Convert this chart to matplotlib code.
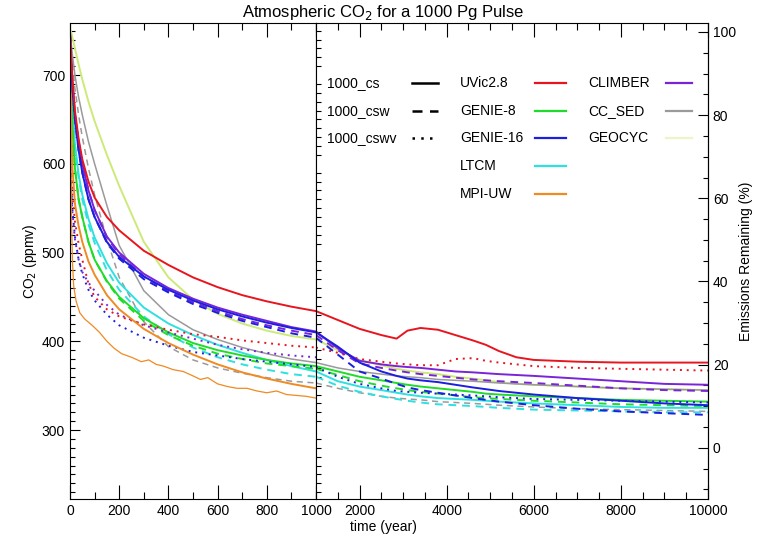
import numpy as np
import matplotlib.pyplot as plt
from matplotlib.lines import Line2D
from matplotlib.ticker import MultipleLocator, FixedLocator

plt.rcParams['font.family'] = ['Liberation Sans', 'DejaVu Sans']
plt.rcParams['font.size'] = 10

# time grids (years)
t_early = [0, 5, 10, 20, 35, 50, 75, 100, 150, 200, 300, 400, 500, 600, 700, 800, 900, 1000]
t_late = [1000, 1500, 2000, 2500, 2850, 3100, 3400, 3800, 4200, 4600, 4900, 5200, 5600, 6000,
          7000, 8000, 9000, 10000]

# CO2 (ppmv)
uvic_cs_e = [750, 720, 695, 660, 628, 605, 580, 562, 540, 525, 502, 486, 472, 461, 452, 445, 439, 434]
uvic_cs_l = [434, 424, 414, 407, 403, 412, 415, 413, 407, 401, 396, 389, 382, 379, 377, 376, 376, 376]
uvic_cswv_e = [620, 590, 565, 535, 510, 492, 465, 450, 436, 428, 419, 413, 408, 405, 401, 398, 395, 393]
uvic_cswv_l = [393, 387, 380, 377, 375, 374, 373, 373, 380, 381, 378, 376, 374, 372, 370, 369, 368, 367]

g8_cs_e = [745, 680, 640, 595, 560, 540, 512, 492, 468, 450, 426, 410, 398, 390, 384, 379, 375, 372]
g8_cs_l = [372, 366, 360, 356, 353, 351, 349, 347, 345, 343, 341, 340, 339, 338, 336, 334, 333, 332]
g8_csw_e = [745, 680, 640, 595, 560, 540, 512, 492, 467, 448, 423, 407, 395, 386, 380, 375, 372, 369]
g8_csw_l = [369, 362, 355, 350, 347, 345, 343, 341, 339, 337, 336, 335, 334, 333, 331, 329, 328, 327]

g16_cs_e = [745, 710, 685, 650, 615, 590, 560, 540, 512, 495, 473, 458, 446, 436, 428, 421, 415, 410]
g16_cs_l = [410, 394, 376, 366, 361, 358, 356, 354, 351, 348, 346, 344, 342, 340, 336, 333, 330, 328]
g16_csw_e = [745, 710, 685, 650, 615, 590, 560, 540, 511, 493, 470, 455, 442, 432, 423, 416, 409, 404]
g16_csw_l = [404, 385, 366, 358, 352, 348, 345, 342, 339, 336, 334, 332, 330, 328, 324, 321, 319, 317]
g16_cswv_e = [610, 575, 548, 518, 492, 476, 458, 446, 430, 418, 404, 395, 388, 384, 380, 377, 374, 371]
g16_cswv_l = [371, 360, 352, 347, 344, 343, 342, 341, 340, 339, 338, 337, 336, 335, 334, 333, 332, 331]

ltcm_cs_e = [745, 700, 665, 622, 588, 565, 538, 517, 488, 466, 438, 420, 407, 396, 387, 379, 372, 366]
ltcm_cs_l = [366, 355, 349, 345, 342, 340, 338, 336, 335, 334, 333, 332, 331, 330, 328, 326, 325, 325]
ltcm_csw_e = [745, 700, 665, 620, 585, 560, 532, 511, 480, 458, 428, 408, 393, 382, 374, 368, 363, 360]
ltcm_csw_l = [360, 350, 343, 338, 335, 333, 331, 329, 328, 327, 326, 325, 324, 323, 322, 321, 320, 320]

mpi_cs_e = [745, 645, 595, 555, 530, 512, 490, 475, 452, 436, 414, 398, 385, 374, 365, 358, 352, 347]
mpi_csw_t = [0, 3, 6, 10, 15, 25, 40, 60, 90, 120, 150, 180, 210, 250, 290, 320, 350, 380, 420,
             460, 500, 530, 560, 600, 640, 680, 720, 760, 800, 840, 880, 920, 960, 1000]
mpi_csw = [740, 620, 540, 490, 462, 445, 432, 425, 418, 410, 400, 392, 386, 382, 377, 379, 374, 372,
           368, 366, 361, 357, 359, 352, 349, 347, 347, 344, 342, 344, 340, 339, 338, 336]

climber_cs_e = [748, 715, 690, 655, 625, 600, 570, 548, 518, 500, 476, 460, 448, 438, 430, 423, 416, 411]
climber_cs_l = [411, 392, 378, 374, 372, 371, 370, 368, 366, 365, 364, 363, 362, 361, 358, 355, 352, 351]
climber_csw_e = [748, 715, 690, 655, 625, 600, 570, 548, 517, 498, 473, 456, 444, 434, 425, 418, 412, 407]
climber_csw_l = [407, 390, 375, 370, 367, 365, 363, 361, 359, 357, 356, 355, 354, 353, 350, 347, 345, 344]
climber_cswv_e = [600, 570, 545, 515, 492, 478, 466, 457, 441, 430, 418, 410, 403, 396, 391, 387, 384, 382]

ccsed_cs_e = [748, 735, 722, 700, 675, 655, 625, 600, 553, 508, 457, 430, 413, 402, 393, 386, 380, 376]
ccsed_cs_l = [376, 370, 366, 363, 361, 360, 359, 357, 356, 355, 354, 353, 352, 351, 349, 347, 346, 345]
ccsed_csw_e = [748, 730, 712, 685, 655, 630, 595, 565, 515, 472, 422, 394, 379, 370, 364, 359, 355, 353]
ccsed_csw_l = [353, 347, 342, 338, 336, 335, 334, 332, 331, 330, 329, 328, 327, 326, 324, 323, 322, 321]

geocyc_cs_e = [752, 748, 742, 730, 712, 695, 670, 648, 610, 575, 512, 472, 447, 431, 420, 412, 406, 402]
geocyc_cs_l = [402, 390, 379, 373, 369, 367, 365, 363, 360, 358, 356, 354, 352, 351, 349, 347, 346, 345]

# legend entries
scen_names = ['1000_cs', '1000_csw', '1000_cswv']
scen_styles = ['-', (0, (4, 3)), (0, (1, 2.5))]
model_names = ['UVic2.8', 'GENIE-8', 'GENIE-16', 'LTCM', 'MPI-UW', 'CLIMBER', 'CC_SED', 'GEOCYC']
model_colors = ['#e8151f', '#1fdc2a', '#1c1fe0', '#2fe0e0', '#f08a22', '#7a24d8', '#9a9a9a', '#cdea78']
col = dict(zip(model_names, model_colors))

fig = plt.figure(figsize=(7.67, 5.5), dpi=100)
axL = fig.add_axes([70 / 767, 1 - 499 / 550, 246 / 767, 476 / 550])
axR = fig.add_axes([316 / 767, 1 - 499 / 550, 392 / 767, 476 / 550], sharey=axL)

lw = 1.4
solid, dashed, dotted = scen_styles


def both(early, late, c, ls, w=lw):
    axL.plot(t_early, early, color=c, ls=ls, lw=w)
    if late is not None:
        axR.plot(t_late, late, color=c, ls=ls, lw=w)


both(geocyc_cs_e, geocyc_cs_l, col['GEOCYC'], solid)
both(ccsed_cs_e, ccsed_cs_l, col['CC_SED'], solid, 1.1)
both(ccsed_csw_e, ccsed_csw_l, col['CC_SED'], dashed, 1.1)
both(ltcm_csw_e, ltcm_csw_l, col['LTCM'], dashed)
both(ltcm_cs_e, ltcm_cs_l, col['LTCM'], solid)
both(g8_csw_e, g8_csw_l, col['GENIE-8'], dashed)
both(g8_cs_e, g8_cs_l, col['GENIE-8'], solid)
both(climber_cswv_e, None, col['CLIMBER'], dotted)
both(g16_cswv_e, g16_cswv_l, col['GENIE-16'], dotted)
both(uvic_cswv_e, uvic_cswv_l, col['UVic2.8'], dotted)
axL.plot(mpi_csw_t, mpi_csw, color=col['MPI-UW'], lw=0.9)
both(mpi_cs_e, None, col['MPI-UW'], solid)
both(climber_csw_e, climber_csw_l, col['CLIMBER'], dashed)
both(climber_cs_e, climber_cs_l, col['CLIMBER'], solid)
both(g16_csw_e, g16_csw_l, col['GENIE-16'], dashed)
both(g16_cs_e, g16_cs_l, col['GENIE-16'], solid)
both(uvic_cs_e, uvic_cs_l, col['UVic2.8'], solid)

# axes limits and ticks
axL.set_xlim(0, 1000)
axR.set_xlim(1000, 10000)
axL.set_ylim(222.3, 758.6)

axL.xaxis.set_major_locator(MultipleLocator(200))
axL.xaxis.set_minor_locator(MultipleLocator(100))
axR.xaxis.set_major_locator(FixedLocator([2000, 4000, 6000, 8000, 10000]))
axR.xaxis.set_minor_locator(MultipleLocator(500))
axL.yaxis.set_major_locator(MultipleLocator(100))
axL.yaxis.set_minor_locator(MultipleLocator(10))

for ax in (axL, axR):
    ax.tick_params(which='both', direction='in', top=True, labelsize=10, width=0.8)
    ax.tick_params(axis='x', which='major', length=10)
    ax.tick_params(axis='x', which='minor', length=5)
    ax.tick_params(axis='y', which='major', length=7)
    ax.tick_params(axis='y', which='minor', length=3.5)
    for s in ax.spines.values():
        s.set_linewidth(0.8)

axL.tick_params(axis='y', right=False)
axR.tick_params(axis='y', left=False, right=False, labelleft=False)


def co2_to_pct(c):
    return (c - 280.0) / (748.5 - 280.0) * 100.0


def pct_to_co2(p):
    return 280.0 + p / 100.0 * (748.5 - 280.0)


sec = axR.secondary_yaxis('right', functions=(co2_to_pct, pct_to_co2))
sec.yaxis.set_major_locator(FixedLocator([0, 20, 40, 60, 80, 100]))
sec.yaxis.set_minor_locator(FixedLocator(list(range(-10, 101, 5))))
sec.tick_params(which='both', direction='in', labelsize=10, width=0.8)
sec.tick_params(which='major', length=7)
sec.tick_params(which='minor', length=3.5)
sec.spines['right'].set_linewidth(0.8)
sec.set_ylabel('Emissions Remaining (%)', fontsize=10, labelpad=2)

axL.set_ylabel('CO$_2$ (ppmv)', fontsize=10, labelpad=2)
fig.text(383 / 767, 1 - 527 / 550, 'time (year)', ha='center', va='center', fontsize=10)
fig.text(383 / 767, 1 - 12 / 550, 'Atmospheric CO$_2$ for a 1000 Pg Pulse', ha='center',
         va='center', fontsize=12)

# legend drawn by hand in figure pixels
W, H = 767.0, 550.0
rows = [83, 111, 138, 166, 194]


def leg_entry(x_txt, x0, x1, y, label, color, ls, w=1.6):
    fig.text(x_txt / W, 1 - y / H, label, ha='left', va='center', fontsize=10)
    fig.add_artist(Line2D([x0 / W, x1 / W], [1 - y / H, 1 - y / H], color=color, ls=ls, lw=w,
                          transform=fig.transFigure))


for i, (n, s) in enumerate(zip(scen_names, scen_styles)):
    leg_entry(327, 412, 438, rows[i], n, 'black', s, 1.8)
for i, n in enumerate(model_names[:5]):
    leg_entry(460, 535, 566, rows[i], n, col[n], '-')
for i, n in enumerate(model_names[5:]):
    leg_entry(588, 666, 692, rows[i], n, col[n] if n != 'GEOCYC' else '#eef3c8', '-')

fig.savefig('out.png', dpi=100)
